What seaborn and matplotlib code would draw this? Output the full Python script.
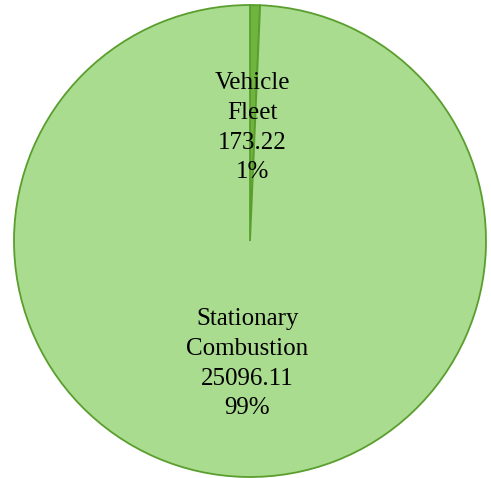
import matplotlib
matplotlib.use("Agg")
import matplotlib.pyplot as plt
import numpy as np
import seaborn as sns

# Emission sources and their totals
categories = ["Vehicle\nFleet", "Stationary\nCombustion"]
values = [173.22, 25096.11]
slice_colors = ["#6fb43f", "#a9dc8f"]
edge_color = "#5a9e2e"

sns.set_theme(style="white")
plt.rcParams["font.family"] = ["Liberation Serif", "DejaVu Serif"]

palette = sns.color_palette(slice_colors)

fig = plt.figure(figsize=(4.91, 4.78), dpi=100)
ax = fig.add_axes([14 / 491, 1 / 478, 472 / 491, 472 / 478])

total = sum(values)

wedges, texts = ax.pie(
    values,
    colors=palette,
    startangle=90,
    counterclock=False,
    radius=1.0,
    wedgeprops=dict(edgecolor=edge_color, linewidth=1.3),
)[:2]

# Centered labels inside each slice
dists = [0.48, 0.52]
for w, name, val, d in zip(wedges, categories, values, dists):
    ang = np.deg2rad((w.theta1 + w.theta2) / 2)
    pct = 100 * val / total
    ax.text(d * np.cos(ang), d * np.sin(ang),
            f"{name}\n{val:.2f}\n{pct:.0f}%",
            ha="center", va="center", fontsize=18, color="black",
            linespacing=1.45)

ax.set_xlim(-1.0, 1.0)
ax.set_ylim(-1.0, 1.0)
ax.set_aspect("equal")
ax.axis("off")

fig.savefig("out.png", dpi=100)
